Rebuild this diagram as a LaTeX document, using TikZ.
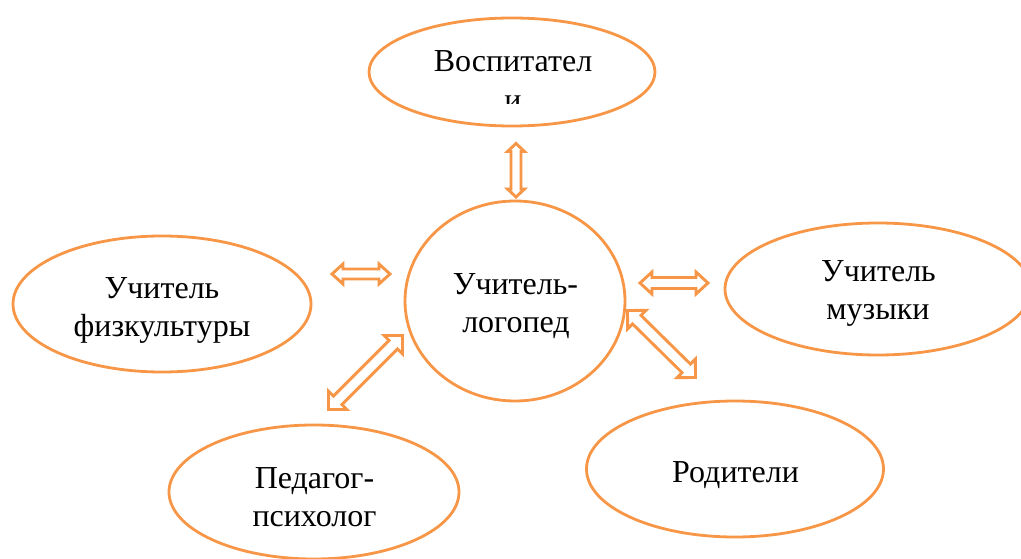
\documentclass[tikz,border=0pt]{standalone}
\usepackage{fontspec}
\setmainfont{Liberation Serif}
\usetikzlibrary{calc,shapes.geometric}
\definecolor{accentorange}{HTML}{F79646}
\tikzset{
  x=1pt,y=-1pt,
  oval/.style={ellipse,draw=accentorange,line width=2.8pt,inner sep=0pt,outer sep=0pt},
  lab/.style={anchor=base,inner sep=0pt,font=\fontsize{32}{38}\selectfont,text=black},
  dbl/.style={draw=accentorange,line width=2.9pt,fill=white,line join=miter}
}
% #1,#2 tips; #3 shaft half-width; #4 head half-width; #5 head length
\newcommand{\dblarrow}[5]{%
  \coordinate (ha) at ($(#1)!#5pt!(#2)$);
  \coordinate (hb) at ($(#2)!#5pt!(#1)$);
  \draw[dbl] (#1)
    -- ($(ha)!#4pt!90:(#2)$) -- ($(ha)!#3pt!90:(#2)$)
    -- ($(hb)!#3pt!-90:(#1)$) -- ($(hb)!#4pt!-90:(#1)$)
    -- (#2)
    -- ($(hb)!#4pt!90:(#1)$) -- ($(hb)!#3pt!90:(#1)$)
    -- ($(ha)!#3pt!-90:(#2)$) -- ($(ha)!#4pt!-90:(#2)$)
    -- cycle;
}
\begin{document}
\begin{tikzpicture}
\useasboundingbox (0,0) rectangle (1021,559);
\clip (0,0) rectangle (1021,559);
\node[oval,minimum width=286pt,minimum height=108pt] (vosp) at (512,72) {};
\node[oval,minimum width=220pt,minimum height=200pt] (logo) at (515,301) {};
\node[oval,minimum width=298pt,minimum height=136pt] (fizk) at (162,304) {};
\node[oval,minimum width=306pt,minimum height=132pt] (muz) at (878,289) {};
\node[oval,minimum width=297pt,minimum height=136pt] (rod) at (735,469) {};
\node[oval,minimum width=290pt,minimum height=134pt] (ped) at (314,492) {};

\node[lab] (t1) at (513,72) {Воспитател};
\begin{scope}
  \clip (480,88) rectangle (540,104);
  \node[lab] (t1b) at (513,111) {и};
\end{scope}
\node[lab] (t2) at (515.5,294) {Учитель-};
\node[lab] (t2b) at (516,332) {логопед};
\node[lab] (t3) at (162,298) {Учитель};
\node[lab] (t3b) at (162,336) {физкультуры};
\node[lab] (t4) at (878.5,281) {Учитель};
\node[lab] (t4b) at (878,319) {музыки};
\node[lab] (t5) at (735.5,482) {Родители};
\node[lab] (t6) at (314.5,488.5) {Педагог-};
\node[lab] (t6b) at (314.5,526) {психолог};

\coordinate (a1) at (516,143.5); \coordinate (a2) at (516,197);
\coordinate (b1) at (332,274); \coordinate (b2) at (390,274);
\coordinate (c1) at (640,283); \coordinate (c2) at (708,283);
\coordinate (d1) at (402.5,335.5); \coordinate (d2) at (328.5,409.5);
\coordinate (e1) at (627.5,310.5); \coordinate (e2) at (695.5,377.5);
\dblarrow{a1}{a2}{5}{8.5}{8}
\dblarrow{b1}{b2}{5}{10}{11}
\dblarrow{c1}{c2}{5.5}{11}{12}
\dblarrow{d1}{d2}{6}{13}{13}
\dblarrow{e1}{e2}{6}{13}{13}
\end{tikzpicture}
\end{document}
